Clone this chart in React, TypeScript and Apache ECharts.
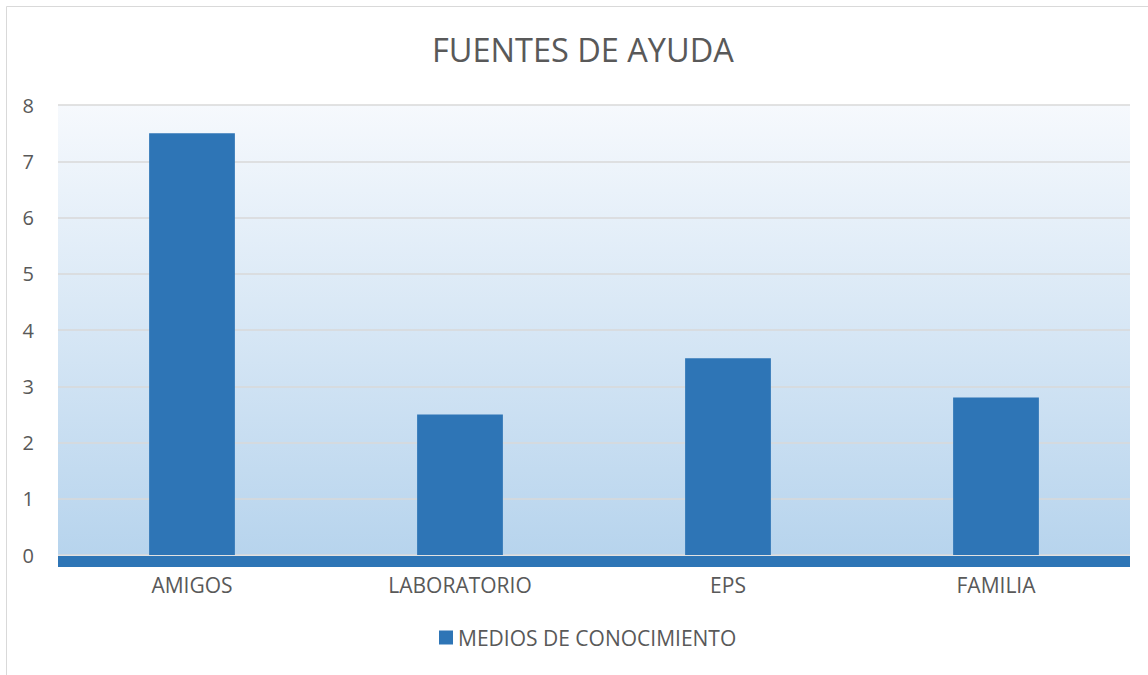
import React, { useEffect, useRef } from "react";
import * as echarts from "echarts";

const categories = ["AMIGOS", "LABORATORIO", "EPS", "FAMILIA"];
const seriesName = "MEDIOS DE CONOCIMIENTO";
const values = [7.5, 2.5, 3.5, 2.8];
const yTicks = { min: 0, max: 8, interval: 1 };

export default function App() {
  const ref = useRef<HTMLDivElement>(null);
  useEffect(() => {
    const chart = echarts.init(ref.current!, null, { renderer: "svg" });
    const font = "Open Sans";
    chart.setOption({
      animation: false,
      backgroundColor: "#ffffff",
      textStyle: { fontFamily: font },
      title: {
        text: "FUENTES DE AYUDA",
        left: 427,
        top: 28,
        textStyle: { fontFamily: font, fontSize: 32.5, fontWeight: "normal", color: "#595959" },
      },
      graphic: [
        {
          type: "rect",
          shape: { x: 6.5, y: 6.5, width: 1200, height: 700 },
          style: { fill: "none", stroke: "#D9D9D9", lineWidth: 1 },
          silent: true,
          z: 100,
        },
      ],
      grid: {
        left: 58,
        right: 18,
        top: 105,
        bottom: 120,
        show: true,
        borderWidth: 0,
        backgroundColor: new echarts.graphic.LinearGradient(0, 0, 0, 1, [
          { offset: 0, color: "#F6F9FD" },
          { offset: 1, color: "#B7D4ED" },
        ]),
      },
      legend: {
        bottom: 22,
        left: 434,
        itemWidth: 14,
        itemHeight: 14,
        itemGap: 7,
        icon: "rect",
        textStyle: { fontFamily: font, fontSize: 21, color: "#595959" },
        data: [seriesName],
      },
      xAxis: {
        type: "category",
        data: categories,
        offset: 6,
        axisLine: { show: true, onZero: false, lineStyle: { color: "#2E75B6", width: 11, cap: "butt" } },
        axisTick: { show: false },
        axisLabel: { margin: 13, fontFamily: font, fontSize: 21, color: "#595959" },
      },
      yAxis: {
        type: "value",
        min: yTicks.min,
        max: yTicks.max,
        interval: yTicks.interval,
        axisLine: { show: false },
        axisTick: { show: false },
        axisLabel: { margin: 24, fontFamily: font, fontSize: 20, color: "#595959" },
        splitLine: { show: true, lineStyle: { color: "#D9D9D9", width: 1.5 } },
      },
      series: [
        {
          name: seriesName,
          type: "bar",
          data: values,
          barWidth: "32%",
          itemStyle: { color: "#2E75B6" },
        },
      ],
    });
    return () => chart.dispose();
  }, []);
  return (
    <div
      ref={ref}
      style={{ position: "fixed", left: 0, top: 0, width: 1148, height: 675 }}
    />
  );
}
